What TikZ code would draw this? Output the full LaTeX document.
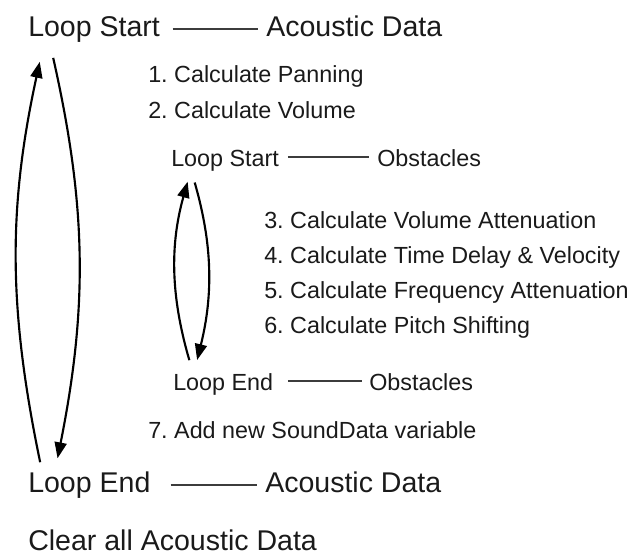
\documentclass[tikz,border=0pt]{standalone}
\usepackage{fontspec}
\setmainfont{Liberation Sans}
\usetikzlibrary{arrows.meta}
\definecolor{txtblack}{HTML}{1A1A1A}
\definecolor{rulegray}{HTML}{3C3C3C}
\frenchspacing

\begin{document}
\begin{tikzpicture}[
    x=0.75pt,y=-0.75pt,
    bigtext/.style={font=\fontsize{21.4pt}{25pt}\selectfont, text=txtblack, inner sep=0pt, text height=15.5pt, text depth=4.5pt, anchor=base west},
    steptext/.style={font=\fontsize{17.5pt}{21pt}\selectfont, text=txtblack, inner sep=0pt, text height=12.8pt, text depth=0pt, anchor=base west},
    dashrule/.style={draw=rulegray, line width=1.5pt},
    loopline/.style={draw=black, line width=1.6pt, -{Triangle[length=12pt,width=9pt]}}
  ]
    \useasboundingbox (0,0) rectangle (636,554);

    % outer loop
    \node[bigtext] (ls1) at (28,36) {Loop Start};
    \node[bigtext] (ad1) at (266,36) {Acoustic Data};
    \node[steptext] (calc1) at (148,82) {1. Calculate Panning};
    \node[steptext] (calc2) at (148,118) {2. Calculate Volume};

    % inner loop
    \node[steptext] (ls2) at (171,166) {Loop Start};
    \node[steptext] (ob1) at (377,166) {Obstacles};
    \node[steptext] (calc3) at (264,228) {3. Calculate Volume Attenuation};
    \node[steptext] (calc4) at (264,263) {4. Calculate Time Delay \& Velocity};
    \node[steptext] (calc5) at (264,298) {5. Calculate Frequency Attenuation};
    \node[steptext] (calc6) at (264,333) {6. Calculate Pitch Shifting};
    \node[steptext] (le2) at (173,390) {Loop End};
    \node[steptext] (ob2) at (369,390) {Obstacles};

    \node[steptext] (calc7) at (148,438) {7. Add new SoundData variable};
    \node[bigtext] (le1) at (28,492) {Loop End};
    \node[bigtext] (ad2) at (265,492) {Acoustic Data};
    \node[bigtext] (clear) at (28,550) {Clear all Acoustic Data};

    \draw[dashrule, shorten <=9.4pt, shorten >=6pt] (ls1.east) -- (ad1.west);
    \draw[dashrule, shorten <=15pt, shorten >=6pt] (le1.east) -- (ad2.west);
    \draw[dashrule, shorten <=6.5pt, shorten >=6pt] (ls2.east) -- (ob1.west);
    \draw[dashrule, shorten <=10.8pt, shorten >=5.25pt] (le2.east) -- (ob2.west);

    \draw[loopline, shorten <=6.75pt, shorten >=15pt] ([xshift=10.5pt]le1.north west) to[bend left=12] ([xshift=12pt]ls1.south west);
    \draw[loopline, shorten <=12pt, shorten >=9.75pt] ([xshift=16.25pt]ls1.south west) to[bend left=12] ([xshift=20.25pt]le1.north west);
    \draw[loopline, shorten <=9.75pt, shorten >=12pt] ([xshift=15pt]le2.north west) to[bend left=16] ([xshift=15.75pt]ls2.south west);
    \draw[loopline, shorten <=12.7pt, shorten >=9.75pt] ([xshift=14.25pt]ls2.south west) to[bend left=15] ([xshift=15.75pt]le2.north west);
\end{tikzpicture}
\end{document}
